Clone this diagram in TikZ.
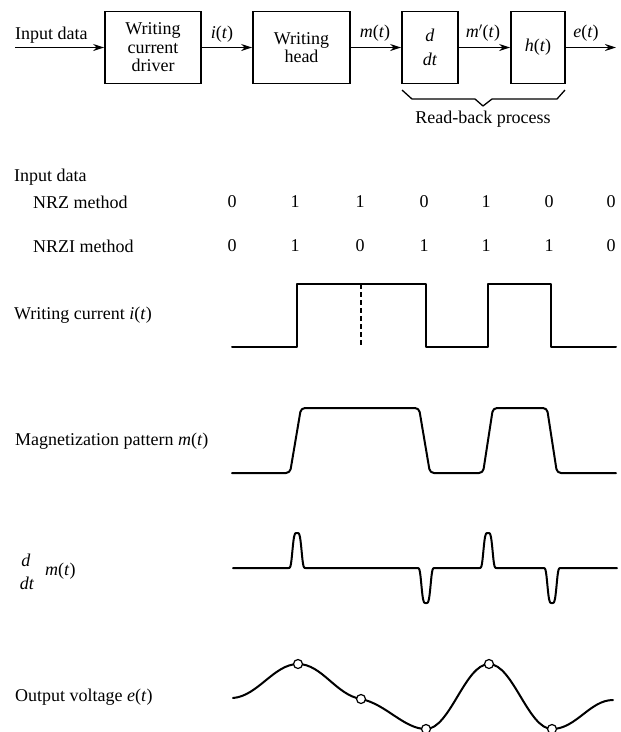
\documentclass[tikz,border=0pt]{standalone}
\usepackage{fontspec}
\setmainfont{Liberation Serif}
\usetikzlibrary{arrows.meta}
\begin{document}
\begin{tikzpicture}[x=1pt,y=-1pt,
  font=\fontsize{18}{18.5}\selectfont,
  blk/.style={draw,line width=1.8pt,inner sep=0pt,align=center},
  lbl/.style={inner sep=0pt},
  conn/.style={line width=1.6pt,-{Stealth[length=11pt,width=7pt]}},
  wave/.style={line width=2pt,line join=round,line cap=round},
  cdot/.style={circle,draw,fill=white,line width=1.2pt,minimum size=9pt,inner sep=0pt}]
\useasboundingbox (0,0) rectangle (621,732);

% ---------- block diagram ----------
\node[blk,minimum width=96pt,minimum height=72pt] (b1) at (153,47.5) {Writing\\current\\driver};
\node[blk,minimum width=97pt,minimum height=72pt] (b2) at (301.5,47.5) {Writing\\head};
\node[blk,minimum width=56pt,minimum height=72pt] (b3) at (430,47.5) {\textit{d}\\[5pt]\textit{dt}};
\node[blk,minimum width=54pt,minimum height=72pt] (b4) at (538,47.5) {\textit{h}(\textit{t})};
\coordinate (cin) at (15,47.5);
\coordinate (cout) at (616,47.5);
\draw[conn] (cin) -- (b1);
\draw[conn] (b1) -- (b2);
\draw[conn] (b2) -- (b3);
\draw[conn] (b3) -- (b4);
\draw[conn] (b4) -- (cout);
\node[lbl,anchor=west] (tin) at (15,35) {Input data};
\node[lbl] (ti) at (222,34) {\textit{i}(\textit{t})};
\node[lbl] (tm) at (375,33) {\textit{m}(\textit{t})};
\node[lbl] (tmp) at (483,33) {\textit{m}$'$(\textit{t})};
\node[lbl] (te) at (586,33) {\textit{e}(\textit{t})};
\draw[line width=1.3pt,line join=round] (402,90) -- (412,99) -- (475,99) -- (483,106) -- (492,99) -- (557,99) -- (565,90);
\node[lbl] (trb) at (483,119) {Read-back process};

% ---------- input data ----------
\node[lbl,anchor=west] (tid) at (14,177) {Input data};
\node[lbl,anchor=west] (tnrz) at (33,202) {NRZ method};
\node[lbl,anchor=west] (tnrzi) at (33,246) {NRZI method};
\foreach \xx/\a/\b [count=\i] in {232/0/0,295/1/1,360/1/0,424/0/1,486/1/1,549/0/1,611/0/0} {
  \node[lbl] (nrz\i) at (\xx,202) {\a};
  \node[lbl] (nrzi\i) at (\xx,246) {\b};
}

% ---------- writing current ----------
\node[lbl,anchor=west] (twc) at (14,315) {Writing current \textit{i}(\textit{t})};
\draw[wave] (232,347) -- (297,347) -- (297,284) -- (426,284) -- (426,347) -- (488,347)
  -- (488,284) -- (551,284) -- (551,347) -- (616,347);
\draw[line width=1.3pt,dashed,dash pattern=on 5pt off 3pt] (361,284) -- (361,347);

% ---------- magnetization ----------
\node[lbl,anchor=west] (tmag) at (15,441) {Magnetization pattern \textit{m}(\textit{t})};
\draw[wave,rounded corners=4pt] (232,473) -- (290,473) -- (301,408) -- (419,408) -- (430,473)
  -- (483,473) -- (493,408) -- (547,408) -- (557,473) -- (616,473);

% ---------- derivative ----------
\node[lbl] (tdd) at (26,560) {\textit{d}};
\node[lbl] (tdt) at (27,583) {\textit{dt}};
\node[lbl,anchor=west] (tdm) at (45,571) {\textit{m}(\textit{t})};
\draw[wave] (233,568) -- (286,568)
  -- plot[domain=286:308,samples=45] (\x,{568-35*exp(-min(((\x-297)*(\x-297)/25)*((\x-297)*(\x-297)/25),9))})
  -- (415,568)
  -- plot[domain=415:437,samples=45] (\x,{568+35*exp(-min(((\x-426)*(\x-426)/25)*((\x-426)*(\x-426)/25),9))})
  -- (477,568)
  -- plot[domain=477:499,samples=45] (\x,{568-35*exp(-min(((\x-488)*(\x-488)/25)*((\x-488)*(\x-488)/25),9))})
  -- (541,568)
  -- plot[domain=541:563,samples=45] (\x,{568+35*exp(-min(((\x-552)*(\x-552)/25)*((\x-552)*(\x-552)/25),9))})
  -- (617,568);

% ---------- output voltage ----------
\node[lbl,anchor=west] (tov) at (15,697) {Output voltage \textit{e}(\textit{t})};
\coordinate (p0) at (233,698);
\coordinate (p1) at (298,664);
\coordinate (p2) at (361,699);
\coordinate (p3) at (426,729);
\coordinate (p4) at (489,664);
\coordinate (p5) at (552,729);
\coordinate (p6) at (613,700);
\draw[wave] (p0) .. controls (258,696) and (274,664) .. (p1)
  .. controls (322,664) and (336,695) .. (p2)
  .. controls (386,704) and (404,729) .. (p3)
  .. controls (450,729) and (465,664) .. (p4)
  .. controls (513,664) and (528,729) .. (p5)
  .. controls (576,729) and (590,700) .. (p6);
\foreach \i in {1,...,5} { \node[cdot] (c\i) at (p\i) {}; }
\end{tikzpicture}
\end{document}
